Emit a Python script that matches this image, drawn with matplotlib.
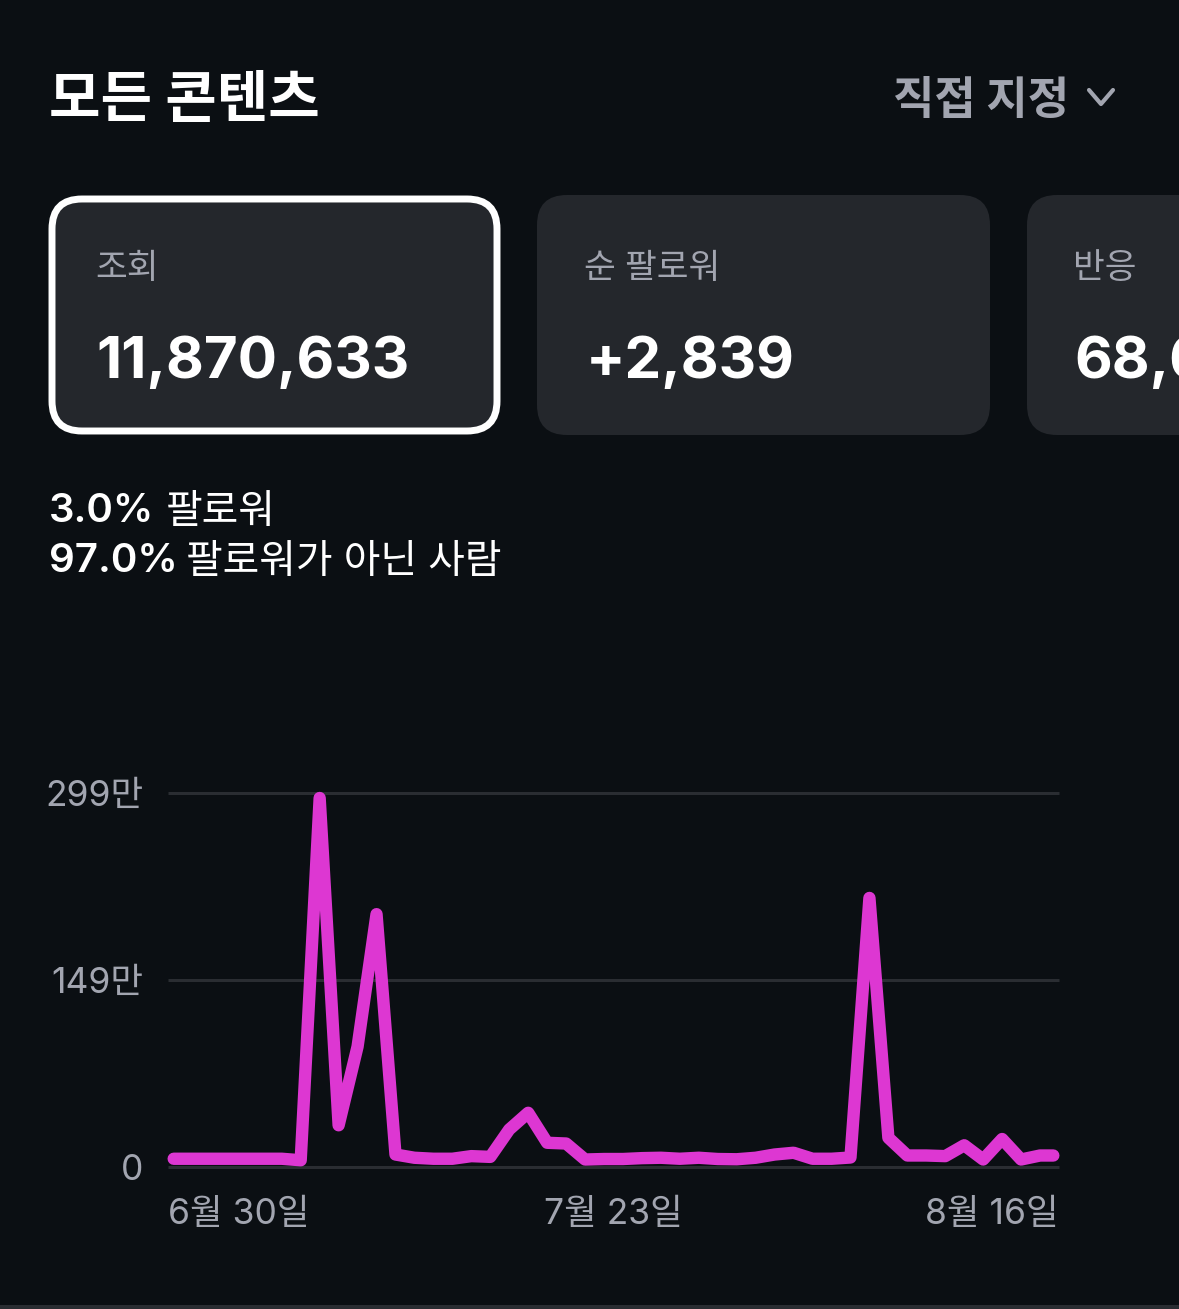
import numpy as np
import matplotlib
matplotlib.use("Agg")
import matplotlib.pyplot as plt
from matplotlib.patches import FancyBboxPatch, Rectangle

plt.rcParams['font.family'] = ['Inter', 'Noto Sans CJK KR', 'DejaVu Sans']

# daily views in units of 만 (10,000)
views = [6.2, 6.2, 6.2, 6.2, 6.2, 6.2, 6.2, 5.0, 295, 33, 96, 202, 9.6, 7.0, 6.2, 6.2,
         8.3, 7.7, 29.6, 43, 19, 18.4, 5.6, 6.0, 6.0, 6.7, 7.0, 6.2, 7.0, 6.0, 5.8, 7.0,
         9.6, 11, 6.2, 6.2, 7.2, 215, 23, 8.8, 8.8, 8.3, 17, 5.6, 22, 5.6, 8.8, 8.8]
y_ticks = [0, 149.5, 299]
y_tick_labels = ['0', '149만', '299만']
x_tick_pos = [0, 23.5, 47]
x_tick_labels = ['6월 30일', '7월 23일', '8월 16일']

title = '모든 콘텐츠'
range_label = '직접 지정'
card_labels = ['조회', '순 팔로워', '반응']
card_values = ['11,870,633', '+2,839', '68,6']
split_pct = ['3.0%', '97.0%']
split_names = ['팔로워', '팔로워가 아닌 사람']

BG = '#0b0f13'
CARD = '#24272c'
GREY = '#a2a5b0'
PINK = '#dd37d2'
GRID = '#2a2d32'

W, H = 1179, 1309
fig = plt.figure(figsize=(W / 100, H / 100), dpi=100, facecolor=BG)

# overlay in pixel coordinates for the app chrome
ui = fig.add_axes([0, 0, 1, 1])
ui.set_xlim(0, W)
ui.set_ylim(H, 0)
ui.axis('off')


def px(size):
    return size * 0.72


ui.text(49, 102, title, color='white', fontsize=px(56), fontweight='bold', va='center')
ui.text(893, 102, range_label, color=GREY, fontsize=px(45), fontweight='bold', va='center')
ui.plot([1089, 1101, 1113], [90, 104, 90], color=GREY, lw=3, solid_capstyle='round')

card_x = [52, 537, 1027]
label_x = [95, 584, 1073]
value_x = [96, 586, 1074]
for i, cx in enumerate(card_x):
    selected = i == 0
    w = 445 if selected else 453
    y0, h = (199, 232) if selected else (195, 240)
    box = FancyBboxPatch((cx + 30, y0 + 30), w - 60, h - 60,
                         boxstyle='round,pad=30,rounding_size=30',
                         fc=CARD, ec='white' if selected else 'none',
                         lw=5 if selected else 0, mutation_aspect=1)
    ui.add_patch(box)
    ui.text(label_x[i], 269, card_labels[i], color=GREY,
            fontsize=px(34.5), fontweight='medium', va='center')
    ui.text(value_x[i], 363, card_values[i], color='white',
            fontsize=px(58.3), fontweight='bold', va='center')

name_gap = [11, 8]
for i in range(2):
    y = 512 + i * 50
    t = ui.text(49, y, split_pct[i], color='white', fontsize=px(40.3), fontweight='semibold', va='center')
    fig.canvas.draw()
    end = t.get_window_extent().x1
    ui.text(end + name_gap[i], y, split_names[i], color='white', fontsize=px(39.8), va='center')

# thin strip along the bottom edge of the screenshot
ui.add_patch(Rectangle((0, 1305), W, 4, fc=GRID, ec='none'))

# the chart itself
ax = fig.add_axes([168 / W, 1 - 1166.5 / H, 891 / W, 373.5 / H])
ax.set_facecolor('none')
days = np.arange(len(views))
for s in ax.spines.values():
    s.set_visible(False)
ax.set_xlim(0, 47)
ax.set_ylim(0, 299)
ax.set_yticks(y_ticks)
ax.set_yticklabels(y_tick_labels)
ax.set_xticks(x_tick_pos)
ax.set_xticklabels(x_tick_labels)
ax.tick_params(length=0, colors=GREY, labelsize=px(35.4))
ax.tick_params(axis='y', pad=18)
ax.tick_params(axis='x', pad=22.5)
ax.grid(axis='y', color=GRID, lw=2.2, clip_on=False, solid_capstyle='butt')
ax.set_axisbelow(True)
labels = ax.get_xticklabels()
labels[0].set_ha('left')
labels[2].set_ha('right')
# pull the ends in by half a stroke so the round caps stay inside the plot
ax.plot(np.clip(days, 0.3, 46.7), views, color=PINK, lw=8.9, clip_on=False,
        solid_capstyle='round', solid_joinstyle='round')

fig.savefig('out.png', dpi=100, facecolor=BG)
